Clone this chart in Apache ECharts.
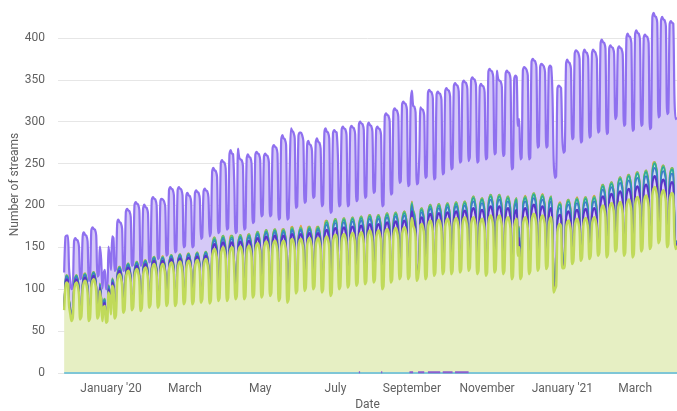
<!DOCTYPE html>
<html><head><meta charset="utf-8">
<script src="https://cdn.jsdelivr.net/npm/echarts@6/dist/echarts.min.js"></script>
<style>html,body{margin:0;padding:0;background:#fff}#c{width:677px;height:411px}</style>
</head><body><div id="c"></div>
<script>
// Axis: daily categories starting 2019-11-19; data starts 2019-11-24 (Sunday)
const axisStart = [2019, 10, 19];
const axisDays = 503;
const padDays = 5;
const tickDates = ['2020-01-01','2020-03-01','2020-05-01','2020-07-01','2020-09-01','2020-11-01','2021-01-01','2021-03-01'];
const tickLabels = ["January '20",'March','May','July','September','November',"January '21",'March'];
const yTicks = [0,50,100,150,200,250,300,350,400];

// Daily values, one row per week (Sun..Sat), from 2019-11-24 to 2021-04-04
const greenBase = [
75,102,108,106,80,70,62,
66,98,106,108,104,94,64,
68,100,108,110,106,96,62,
66,102,110,112,108,98,65,
69,98,85,62,78,80,60,
62,96,88,70,104,100,65,
69,108,116,118,114,104,72,
76,112,120,122,118,108,75,
79,114,122,124,120,110,74,
78,116,124,126,122,112,78,
82,120,128,130,126,116,78,
82,120,128,130,126,116,80,
84,122,130,132,128,118,80,
84,123,131,133,129,119,82,
86,124,132,134,130,120,82,
86,125,133,135,131,121,84,
88,126,134,136,132,122,83,
87,138,146,148,144,134,86,
90,140,148,150,146,136,86,
90,140,148,150,146,120,88,
92,141,149,151,147,137,88,
92,142,150,152,148,138,90,
94,145,153,155,151,141,90,
94,147,155,157,153,143,92,
96,148,156,158,154,144,86,
90,148,156,158,154,144,84,
88,130,158,160,156,146,95,
99,150,158,160,156,146,98,
102,151,159,161,157,147,100,
104,151,159,161,157,147,96,
100,153,161,163,159,149,92,
96,155,163,165,161,140,100,
104,156,164,166,162,152,102,
106,157,165,167,163,153,104,
108,158,166,168,164,154,106,
110,160,168,170,166,156,108,
112,160,168,170,166,156,100,
104,162,170,172,168,158,108,
112,163,171,173,169,159,112,
116,164,172,174,170,160,112,
116,170,185,176,172,162,110,
114,130,176,178,174,164,112,
116,172,180,182,178,168,116,
120,173,181,183,179,169,118,
122,174,182,184,180,170,118,
122,175,183,185,181,171,120,
124,176,184,186,182,172,122,
126,176,184,186,182,172,118,
122,174,182,184,180,170,116,
120,178,186,188,184,174,120,
124,178,186,188,184,174,118,
122,176,184,186,182,172,112,
116,174,182,184,140,150,112,
116,176,184,186,182,172,118,
122,180,188,190,186,176,122,
126,178,186,188,184,174,124,
128,176,184,186,160,96,100,
104,168,176,178,174,125,125,
129,172,180,182,178,168,130,
134,174,182,184,180,170,134,
138,175,183,185,181,171,136,
140,176,184,186,182,172,140,
144,190,198,200,196,186,138,
142,193,201,203,199,189,145,
149,194,202,204,200,190,140,
144,197,205,207,203,193,138,
142,200,208,210,206,196,145,
149,202,210,212,208,198,148,
152,212,220,222,218,208,155,
159,208,216,218,214,204,150,
154,205,213,215,211,160,148,
152];

const indigoValues = [
1,4,4,4,4,4,1, 1,4,4,4,4,4,1, 1,4,4,4,4,4,1, 1,4,4,4,4,4,1, 1,4,4,4,4,4,1, 1,4,4,4,4,4,1, 1,4,4,4,4,4,1,
1,4,4,4,4,4,1, 1,4,4,4,4,4,1, 1,4,4,4,4,4,1, 1,4,4,4,4,4,1, 1,4,4,4,4,4,1, 1,4,4,4,4,4,1, 1,4,4,4,4,4,1,
1,4,4,4,4,4,1, 1,4,4,4,4,4,1, 1,4,4,4,4,4,1,
1,6,6,6,6,6,1, 1,6,6,6,6,6,1, 1,6,6,6,6,6,1, 1,6,6,6,6,6,1, 1,6,6,6,6,6,1, 1,6,6,6,6,6,1, 1,6,6,6,6,6,1,
1,6,6,6,6,6,1, 1,6,6,6,6,6,1, 1,6,6,6,6,6,1, 1,6,6,6,6,6,1, 1,6,6,6,6,6,1, 1,6,6,6,6,6,1,
2,8,8,8,8,8,2, 2,8,8,8,8,8,2, 2,8,8,8,8,8,2, 2,8,8,8,8,8,2, 2,8,8,8,8,8,2, 2,8,8,8,8,8,2, 2,8,8,8,8,8,2,
2,8,8,8,8,8,2, 2,8,8,8,8,8,2, 2,8,8,8,8,8,2, 2,8,8,8,8,8,2, 2,8,8,8,8,8,2, 2,8,8,8,8,8,2, 2,8,8,8,8,8,2,
2,8,8,8,8,8,2, 2,8,8,8,8,8,2, 2,8,8,8,8,8,2,
2,11,11,11,11,11,2, 2,11,11,11,11,11,2, 2,11,11,11,11,11,2, 2,11,11,11,11,11,2, 2,11,11,11,11,11,2, 2,11,11,11,11,11,2, 2,11,11,11,11,11,2,
2,11,11,11,11,11,2, 2,11,11,11,11,11,2, 2,11,11,11,11,11,2, 2,11,11,11,11,11,2, 2,11,11,11,11,11,2, 2,11,11,11,11,11,2, 2,11,11,11,11,11,2,
2,11,11,11,11,11,2, 2,11,11,11,11,11,2, 2,11,11,11,11,11,2,
3,13,13,13,13,13,3, 3,13,13,13,13,13,3, 3,13,13,13,13,13,3, 3,13,13,13,13,13,3, 3,13,13,13,13,13,3, 3,13,13,13,13,13,3, 3,13,13,13,13,13,3,
3];

const blueValues = [
1,3,3,3,3,3,1, 1,3,3,3,3,3,1, 1,3,3,3,3,3,1, 1,3,3,3,3,3,1, 1,3,3,3,3,3,1, 1,3,3,3,3,3,1, 1,3,3,3,3,3,1,
1,3,3,3,3,3,1, 1,3,3,3,3,3,1, 1,3,3,3,3,3,1, 1,3,3,3,3,3,1, 1,3,3,3,3,3,1, 1,3,3,3,3,3,1, 1,3,3,3,3,3,1,
1,3,3,3,3,3,1, 1,3,3,3,3,3,1, 1,3,3,3,3,3,1,
1,4,4,4,4,4,1, 1,4,4,4,4,4,1, 1,4,4,4,4,4,1, 1,4,4,4,4,4,1, 1,4,4,4,4,4,1, 1,4,4,4,4,4,1, 1,4,4,4,4,4,1,
1,4,4,4,4,4,1, 1,4,4,4,4,4,1, 1,4,4,4,4,4,1, 1,4,4,4,4,4,1, 1,4,4,4,4,4,1, 1,4,4,4,4,4,1,
1,6,6,6,6,6,1, 1,6,6,6,6,6,1, 1,6,6,6,6,6,1, 1,6,6,6,6,6,1, 1,6,6,6,6,6,1, 1,6,6,6,6,6,1, 1,6,6,6,6,6,1,
1,6,6,6,6,6,1, 1,6,6,6,6,6,1, 1,6,6,6,6,6,1, 1,6,6,6,6,6,1, 1,6,6,6,6,6,1, 1,6,6,6,6,6,1, 1,6,6,6,6,6,1,
1,6,6,6,6,6,1, 1,6,6,6,6,6,1, 1,6,6,6,6,6,1,
1,8,8,8,8,8,1, 1,8,8,8,8,8,1, 1,8,8,8,8,8,1, 1,8,8,8,8,8,1, 1,8,8,8,8,8,1, 1,8,8,8,8,8,1, 1,8,8,8,8,8,1,
1,8,8,8,8,8,1, 1,8,8,8,8,8,1, 1,8,8,8,8,8,1, 1,8,8,8,8,8,1, 1,8,8,8,8,8,1, 1,8,8,8,8,8,1, 1,8,8,8,8,8,1,
1,8,8,8,8,8,1, 1,8,8,8,8,8,1, 1,8,8,8,8,8,1,
2,10,10,10,10,10,2, 2,10,10,10,10,10,2, 2,10,10,10,10,10,2, 2,10,10,10,10,10,2, 2,10,10,10,10,10,2, 2,10,10,10,10,10,2, 2,10,10,10,10,10,2,
2];

const tealValues = [
0,1,1,1,1,1,0, 0,1,1,1,1,1,0, 0,1,1,1,1,1,0, 0,1,1,1,1,1,0, 0,1,1,1,1,1,0, 0,1,1,1,1,1,0, 0,1,1,1,1,1,0,
0,1,1,1,1,1,0, 0,1,1,1,1,1,0, 0,1,1,1,1,1,0, 0,1,1,1,1,1,0, 0,1,1,1,1,1,0, 0,1,1,1,1,1,0, 0,1,1,1,1,1,0,
0,1,1,1,1,1,0, 0,1,1,1,1,1,0, 0,1,1,1,1,1,0,
0,2,2,2,2,2,0, 0,2,2,2,2,2,0, 0,2,2,2,2,2,0, 0,2,2,2,2,2,0, 0,2,2,2,2,2,0, 0,2,2,2,2,2,0, 0,2,2,2,2,2,0,
0,2,2,2,2,2,0, 0,2,2,2,2,2,0, 0,2,2,2,2,2,0, 0,2,2,2,2,2,0, 0,2,2,2,2,2,0, 0,2,2,2,2,2,0,
0,3,3,3,3,3,0, 0,3,3,3,3,3,0, 0,3,3,3,3,3,0, 0,3,3,3,3,3,0, 0,3,3,3,3,3,0, 0,3,3,3,3,3,0, 0,3,3,3,3,3,0,
0,3,3,3,3,3,0, 0,3,3,3,3,3,0, 0,3,3,3,3,3,0, 0,3,3,3,3,3,0, 0,3,3,3,3,3,0, 0,3,3,3,3,3,0, 0,3,3,3,3,3,0,
0,3,3,3,3,3,0, 0,3,3,3,3,3,0, 0,3,3,3,3,3,0,
1,4,4,4,4,4,1, 1,4,4,4,4,4,1, 1,4,4,4,4,4,1, 1,4,4,4,4,4,1, 1,4,4,4,4,4,1, 1,4,4,4,4,4,1, 1,4,4,4,4,4,1,
1,4,4,4,4,4,1, 1,4,4,4,4,4,1, 1,4,4,4,4,4,1, 1,4,4,4,4,4,1, 1,4,4,4,4,4,1, 1,4,4,4,4,4,1, 1,4,4,4,4,4,1,
1,4,4,4,4,4,1, 1,4,4,4,4,4,1, 1,4,4,4,4,4,1,
1,5,5,5,5,5,1, 1,5,5,5,5,5,1, 1,5,5,5,5,5,1, 1,5,5,5,5,5,1, 1,5,5,5,5,5,1, 1,5,5,5,5,5,1, 1,5,5,5,5,5,1,
1];

const limeValues = [
0,1,1,1,1,1,0, 0,1,1,1,1,1,0, 0,1,1,1,1,1,0, 0,1,1,1,1,1,0, 0,1,1,1,1,1,0, 0,1,1,1,1,1,0, 0,1,1,1,1,1,0,
0,1,1,1,1,1,0, 0,1,1,1,1,1,0, 0,1,1,1,1,1,0, 0,1,1,1,1,1,0, 0,1,1,1,1,1,0, 0,1,1,1,1,1,0, 0,1,1,1,1,1,0,
0,1,1,1,1,1,0, 0,1,1,1,1,1,0, 0,1,1,1,1,1,0,
0,2,2,2,2,2,0, 0,2,2,2,2,2,0, 0,2,2,2,2,2,0, 0,2,2,2,2,2,0, 0,2,2,2,2,2,0, 0,2,2,2,2,2,0, 0,2,2,2,2,2,0,
0,2,2,2,2,2,0, 0,2,2,2,2,2,0, 0,2,2,2,2,2,0, 0,2,2,2,2,2,0, 0,2,2,2,2,2,0, 0,2,2,2,2,2,0,
0,2,2,2,2,2,0, 0,2,2,2,2,2,0, 0,2,2,2,2,2,0, 0,2,2,2,2,2,0, 0,2,2,2,2,2,0, 0,2,2,2,2,2,0, 0,2,2,2,2,2,0,
0,2,2,2,2,2,0, 0,2,2,2,2,2,0, 0,2,2,2,2,2,0, 0,2,2,2,2,2,0, 0,2,2,2,2,2,0, 0,2,2,2,2,2,0, 0,2,2,2,2,2,0,
0,2,2,2,2,2,0, 0,2,2,2,2,2,0, 0,2,2,2,2,2,0,
0,2,2,2,2,2,0, 0,2,2,2,2,2,0, 0,2,2,2,2,2,0, 0,2,2,2,2,2,0, 0,2,2,2,2,2,0, 0,2,2,2,2,2,0, 0,2,2,2,2,2,0,
0,2,2,2,2,2,0, 0,2,2,2,2,2,0, 0,2,2,2,2,2,0, 0,2,2,2,2,2,0, 0,2,2,2,2,2,0, 0,2,2,2,2,2,0, 0,2,2,2,2,2,0,
0,2,2,2,2,2,0, 0,2,2,2,2,2,0, 0,2,2,2,2,2,0,
0,2,2,2,2,2,0, 0,2,2,2,2,2,0, 0,2,2,2,2,2,0, 0,2,2,2,2,2,0, 0,2,2,2,2,2,0, 0,2,2,2,2,2,0, 0,2,2,2,2,2,0,
0];

const orangeValues = [
0,0,0,0,0,0,0, 0,0,0,0,0,0,0, 0,0,1,0,0,0,0, 0,0,0,0,0,0,0, 0,0,0,0,0,0,0, 0,0,0,0,0,0,0, 0,0,1,0,0,0,0,
0,0,0,0,0,0,0, 0,0,0,0,0,0,0, 0,0,1,0,0,0,0, 0,0,0,0,0,0,0, 0,0,0,1,0,0,0, 0,0,0,0,0,0,0, 0,0,0,0,0,0,0,
0,0,1,0,0,0,0, 0,0,0,0,0,0,0, 0,0,0,0,0,0,0,
0,0,1,0,0,0,0, 0,0,0,0,0,0,0, 0,0,2,0,0,0,0, 0,0,0,0,0,0,0, 0,0,1,0,0,0,0, 0,0,0,0,0,0,0, 0,0,0,0,0,0,0,
0,0,0,0,0,0,0, 0,0,2,0,0,0,0, 0,0,2,1,0,0,0, 0,0,0,2,0,0,0, 0,0,2,0,0,0,0, 0,1,2,0,0,0,0,
0,0,2,0,0,0,0, 0,0,0,0,0,0,0, 0,0,0,0,0,0,0, 0,0,0,0,0,0,0, 0,0,0,0,0,0,0, 0,0,1,0,0,0,0, 0,0,0,0,0,0,0,
0,0,0,0,0,0,0, 0,0,0,0,0,0,0, 0,0,0,0,0,0,0, 0,0,1,0,0,0,0, 0,0,0,0,0,0,0, 0,0,0,0,0,0,0, 0,0,0,0,0,0,0,
0,0,0,0,0,0,0, 0,0,0,0,0,0,0, 0,0,0,0,0,0,0,
0,0,0,0,0,0,0, 0,0,0,0,0,0,0, 0,0,0,0,0,0,0, 0,0,0,0,0,0,0, 0,0,0,0,0,0,0, 0,0,0,0,0,0,0, 0,0,0,1,0,0,0,
0,0,0,0,0,0,0, 0,0,0,1,0,0,0, 0,0,0,0,0,0,0, 0,0,0,1,0,0,0, 0,0,1,0,0,0,0, 0,0,0,1,0,0,0, 0,0,1,0,0,0,0,
0,0,1,1,0,0,0, 0,0,1,0,0,0,0, 0,0,0,0,0,0,0,
0,0,0,0,0,0,0, 0,0,1,0,0,0,0, 0,0,1,0,0,0,0, 0,0,0,0,0,0,0, 0,0,2,0,0,0,0, 0,0,1,0,0,0,0, 0,0,0,0,0,0,0,
0];

const purpleValues = [
43,51,47,49,35,30,36,
34,50,46,42,45,48,46,
44,54,50,46,49,52,46,
44,59,55,51,54,57,48,
46,44,42,30,32,34,38,
36,46,42,44,50,52,55,
53,61,57,53,56,59,48,
46,71,67,63,66,69,51,
49,77,73,69,72,75,52,
50,71,67,63,66,69,52,
50,77,73,69,72,75,56,
54,75,71,67,70,73,58,
56,87,83,79,82,85,62,
60,86,82,78,81,84,66,
64,77,73,69,72,75,66,
64,80,76,72,75,78,74,
72,81,77,73,76,79,78,
79,88,84,80,83,86,79,
77,96,92,88,91,94,83,
81,106,102,98,101,90,77,
75,113,94,90,93,96,81,
79,100,96,92,95,98,87,
85,101,97,93,96,99,95,
93,97,93,89,92,95,93,
91,106,102,98,101,104,95,
93,116,112,108,111,114,97,
95,105,118,114,117,120,100,
98,119,115,111,114,117,103,
101,106,102,98,101,104,107,
105,109,105,101,104,107,101,
99,114,110,106,109,112,96,
94,112,108,104,107,100,96,
94,115,111,107,110,113,94,
92,115,111,107,110,113,98,
96,119,115,111,114,117,100,
98,115,111,107,110,113,104,
102,111,107,103,106,109,96,
94,125,121,117,120,123,102,
100,130,126,122,125,128,112,
110,137,133,129,132,135,108,
106,132,132,124,127,130,112,
110,110,122,118,121,124,118,
116,143,139,135,138,141,112,
110,140,136,132,135,138,116,
114,143,139,135,138,141,122,
120,148,144,140,143,146,128,
126,150,146,142,145,148,128,
128,148,144,140,143,146,129,
127,142,138,134,137,140,135,
133,156,152,148,151,154,137,
135,158,140,136,139,142,137,
135,156,152,148,151,154,127,
125,152,148,144,130,128,139,
137,160,156,152,155,158,133,
131,166,162,158,161,164,143,
141,162,158,154,157,160,141,
139,162,158,154,148,132,129,
127,146,142,138,141,131,134,
132,172,168,164,167,170,145,
143,182,178,174,177,180,137,
135,181,177,173,176,179,141,
139,180,176,172,175,178,143,
141,178,174,170,173,176,143,
141,169,165,161,164,167,154,
152,162,158,154,157,160,149,
147,173,169,165,168,171,145,
143,174,170,166,169,172,144,
142,168,164,160,163,166,137,
135,182,178,174,177,180,144,
142,182,178,174,177,180,153,
151,181,177,173,176,135,149,
147];

const zeroValues = [
0,0,0,0,0,0,0, 0,0,0,0,0,0,0, 0,0,0,0,0,0,0, 0,0,0,0,0,0,0, 0,0,0,0,0,0,0, 0,0,0,0,0,0,0, 0,0,0,0,0,0,0,
0,0,0,0,0,0,0, 0,0,0,0,0,0,0, 0,0,0,0,0,0,0, 0,0,0,0,0,0,0, 0,0,0,0,0,0,0, 0,0,0,0,0,0,0, 0,0,0,0,0,0,0,
0,0,0,0,0,0,0, 0,0,0,0,0,0,0, 0,0,0,0,0,0,0, 0,0,0,0,0,0,0, 0,0,0,0,0,0,0, 0,0,0,0,0,0,0, 0,0,0,0,0,0,0,
0,0,0,0,0,0,0, 0,0,0,0,0,0,0, 0,0,0,0,0,0,0, 0,0,0,0,0,0,0, 0,0,0,0,0,0,0, 0,0,0,0,0,0,0, 0,0,0,0,0,0,0,
0,0,0,0,0,0,0, 0,0,0,0,0,0,0, 0,0,0,0,0,0,0, 0,0,0,0,0,0,0, 0,0,0,0,0,0,0, 0,0,0,0,0,0,0, 0,0,0,0,0,0,0,
0,0,0,0,0,0,0, 0,0,0,0,0,0,0, 0,0,0,0,0,0,0, 0,0,0,0,0,0,0, 0,0,0,0,0,0,0, 0,0,0,0,0,0,0, 0,0,0,0,0,0,0,
0,0,0,0,0,0,0, 0,0,0,0,0,0,0, 0,0,0,0,0,0,0, 0,0,0,0,0,0,0, 0,0,0,0,0,0,0, 0,0,0,0,0,0,0, 0,0,0,0,0,0,0,
0,0,0,0,0,0,0, 0,0,0,0,0,0,0, 0,0,0,0,0,0,0, 0,0,0,0,0,0,0, 0,0,0,0,0,0,0, 0,0,0,0,0,0,0, 0,0,0,0,0,0,0,
0,0,0,0,0,0,0, 0,0,0,0,0,0,0, 0,0,0,0,0,0,0, 0,0,0,0,0,0,0, 0,0,0,0,0,0,0, 0,0,0,0,0,0,0, 0,0,0,0,0,0,0,
0,0,0,0,0,0,0, 0,0,0,0,0,0,0, 0,0,0,0,0,0,0, 0,0,0,0,0,0,0, 0,0,0,0,0,0,0, 0,0,0,0,0,0,0, 0,0,0,0,0,0,0,
0,0,0,0,0,0,0, 0];

const minorValues = [
['2020-07-20',1],['2020-07-21',1],['2020-07-22','-'],
['2020-08-07',1],['2020-08-08',1],['2020-08-09','-'],
['2020-08-30',1],['2020-09-02',1],['2020-09-03','-'],
['2020-09-06',1],['2020-09-11',1],['2020-09-12','-'],
['2020-09-14',1],['2020-09-24',1],['2020-09-25','-'],
['2020-09-26',1],['2020-10-04',1],['2020-10-05','-'],
['2020-10-06',1],['2020-10-17',1]
];

// ---- build ----
const categories = [];
for (let i = 0; i < axisDays; i++) {
  const d = new Date(Date.UTC(axisStart[0], axisStart[1], axisStart[2] + i));
  categories.push(d.toISOString().slice(0, 10));
}
const padded = v => new Array(padDays).fill(null).concat(v);

const font = 'Roboto';
const grey = '#616161';

function stackLine(name, values, color, width, areaColor, areaOpacity, z) {
  return {
    name, type: 'line', stack: 'streams', data: padded(values), z,
    showSymbol: false, symbol: 'none', smooth: 0.3,
    lineStyle: { color, width },
    itemStyle: { color },
    areaStyle: { color: areaColor || color, opacity: areaOpacity },
    emphasis: { disabled: true }
  };
}

const chart = echarts.init(document.getElementById('c'), null, { renderer: 'canvas' });
chart.setOption({
  animation: false,
  textStyle: { fontFamily: font },
  grid: { left: 58, right: 0, top: -4, bottom: 38, containLabel: false, outerBoundsMode: 'none' },
  xAxis: {
    type: 'category', data: categories, boundaryGap: false,
    axisLine: { show: false }, axisTick: { show: false },
    axisLabel: {
      interval: (i, v) => tickDates.indexOf(v) >= 0,
      formatter: v => { const k = tickDates.indexOf(v); return k >= 0 ? tickLabels[k] : ''; },
      color: grey, fontSize: 12, margin: 10, fontFamily: font
    },
    splitLine: { show: false },
    name: 'Date', nameLocation: 'middle', nameGap: 26, nameMoveOverlap: false,
    nameTextStyle: { color: grey, fontSize: 12, fontFamily: font }
  },
  yAxis: {
    type: 'value', min: 0, max: 450, interval: 50,
    axisLine: { show: false }, axisTick: { show: false },
    axisLabel: {
      formatter: v => yTicks.indexOf(v) >= 0 ? String(v) : '',
      color: grey, fontSize: 12, margin: 13, fontFamily: font
    },
    splitLine: { lineStyle: { color: '#e6e6e6', width: 1 } },
    name: 'Number of streams', nameLocation: 'middle', nameGap: 37, nameRotate: 90, nameMoveOverlap: false,
    nameTextStyle: { color: grey, fontSize: 12, fontFamily: font }
  },
  series: [
    stackLine('Base', greenBase, '#c0da5a', 2.5, '#e6efc3', 1, 7),
    stackLine('Indigo', indigoValues, '#5a34c8', 2, null, 0.22, 6),
    stackLine('Blue', blueValues, '#3d7cc9', 1.5, null, 0.25, 5),
    stackLine('Teal', tealValues, '#2aa8a0', 1.5, null, 0.25, 4),
    stackLine('Lime', limeValues, '#6cc46a', 1.5, null, 0.25, 3),
    stackLine('Orange', orangeValues, '#f0a03c', 1.5, null, 0.3, 2),
    stackLine('Purple', purpleValues, '#8f70ef', 2.2, '#d5c9f7', 1, 1),
    {
      name: 'Zero', type: 'line', data: padded(zeroValues), showSymbol: false, symbol: 'none',
      lineStyle: { color: '#7ec6d6', width: 2 }, z: 8, emphasis: { disabled: true }
    },
    {
      name: 'Minor', type: 'line', data: minorValues, showSymbol: false, symbol: 'none',
      connectNulls: false, lineStyle: { color: '#8a5fd0', width: 2 }, z: 9, emphasis: { disabled: true }
    }
  ]
});
</script>
</body></html>
